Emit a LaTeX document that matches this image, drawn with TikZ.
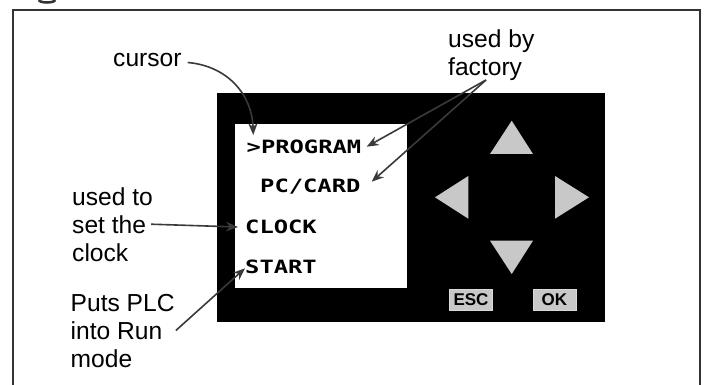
\documentclass[tikz,border=0pt]{standalone}
\usepackage{fontspec}
\setmainfont{Liberation Sans}
\newfontfamily\lcdfont{DejaVu Sans Mono}
\usetikzlibrary{arrows.meta}
\definecolor{framegray}{HTML}{333333}
\definecolor{arrowgray}{HTML}{3A3A3A}
\definecolor{keygray}{HTML}{C8C8C8}
\newcommand{\lcdtext}[1]{\scalebox{1.3}[1]{#1}}
\begin{document}
\begin{tikzpicture}[x=1pt,y=-1pt,
  lbl/.style={anchor=base west,inner sep=0pt,align=left,
    font=\fontsize{24.6}{28}\selectfont},
  lcd/.style={anchor=base west,inner sep=0pt,
    font=\lcdfont\bfseries\fontsize{18.3}{20}\selectfont},
  pointer/.style={draw=arrowgray,line width=1.6pt,
    -{Stealth[length=12pt,width=9.5pt]}},
  keytri/.style={fill=keygray,draw=none},
  keybtn/.style={fill=keygray,draw=gray!30,line width=0.6pt,
    minimum width=43pt,minimum height=21pt,inner sep=0pt,
    font=\bfseries\fontsize{17}{17}\selectfont}]
\useasboundingbox (0,0) rectangle (707,385);
\fill[white] (0,0) rectangle (707,385);
% frame
\draw[framegray,line width=2.5pt] (13,390) -- (13,10) -- (700,10) -- (700,390);
\draw[framegray,line width=2.5pt] (39,0) arc[start angle=180,end angle=360,x radius=8,y radius=-2.5];
% panel
\fill[black] (217,93) rectangle (605,322);
\fill[white] (235,124) rectangle (407,288);
% keys
\fill[keytri] (511.7,120.7) -- (533,154) -- (490,154) -- cycle;
\fill[keytri] (511.7,274) -- (533,240.7) -- (490,240.7) -- cycle;
\fill[keytri] (435,197.3) -- (468.3,176) -- (468.3,218.7) -- cycle;
\fill[keytri] (589,197.3) -- (555,176) -- (555,218.7) -- cycle;
\node[keybtn] (esc) at (471,300) {ESC};
\node[keybtn] (ok) at (554.3,300) {OK};
% screen text
\node[lcd] (prog) at (246.5,153.3) {\lcdtext{>PROGRAM}};
\node[lcd] (pc) at (260,192.7) {\lcdtext{PC/CARD}};
\node[lcd] (clock) at (245,233.3) {\lcdtext{CLOCK}};
\node[lcd] (start) at (245,273.3) {\lcdtext{START}};
% labels (base anchor = last line's baseline)
\node[lbl] (cursor) at (113,67) {cursor};
\node[lbl] (usedby) at (448,76) {used by\\factory};
\node[lbl] (settime) at (72,261) {used to\\set the\\clock};
\node[lbl] (puts) at (70.5,367) {Puts PLC\\into Run\\mode};
% arrow tips
\coordinate (progtip) at (366.7,146.7);
\coordinate (pctip) at (371.7,181.7);
\coordinate (cursortip) at (253.3,135);
\coordinate (clocktip) at (238,227);
\coordinate (starttip) at (245,268.3);
\coordinate (factsrc) at (486,80);
% arrows
\draw[pointer] ([xshift=6pt,yshift=-2pt]cursor.east) .. controls (228,66) and (252,95) .. (cursortip);
\draw[pointer] (factsrc) -- (progtip);
\draw[pointer] (factsrc) -- (pctip);
\draw[pointer] (settime.east) ++(-2,0) -- (clocktip);
\draw[pointer] (puts.east) ++(1,0) -- (starttip);
\end{tikzpicture}
\end{document}
